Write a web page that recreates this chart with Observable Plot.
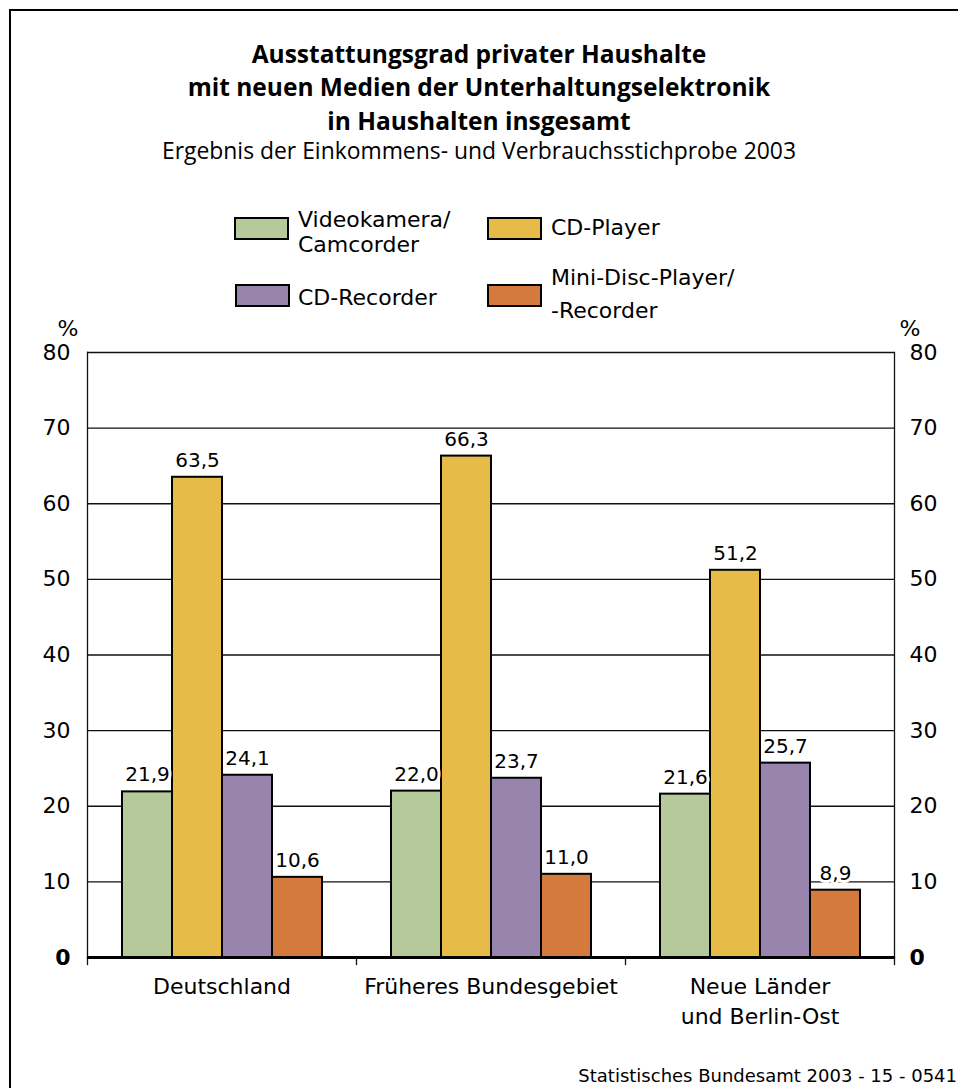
<!DOCTYPE html>
<html>
<head>
<meta charset="utf-8">
<script src="https://cdn.jsdelivr.net/npm/d3@7"></script>
<script src="https://cdn.jsdelivr.net/npm/@observablehq/plot@0.6"></script>
<style>
html, body { margin: 0; padding: 0; background: #fff; width: 958px; height: 1088px; overflow: hidden; }
#page { position: relative; width: 958px; height: 1088px; overflow: hidden; font-family: "DejaVu Sans", sans-serif; color: #000; }
#frame { position: absolute; left: 9px; top: 9px; width: 1000px; height: 1200px; border: 2px solid #000; box-sizing: border-box; }
.title { position: absolute; left: 0; width: 958px; text-align: center; font-family: "Open Sans", sans-serif; font-weight: bold; font-size: 24.5px; line-height: 33.5px; white-space: pre; }
.subtitle { position: absolute; left: 0; width: 958px; text-align: center; font-family: "Open Sans", sans-serif; font-size: 22.9px; line-height: 30px; white-space: nowrap; }
.lbox { position: absolute; width: 55px; height: 23px; border: 2.5px solid #000; box-sizing: border-box; }
.ltext { position: absolute; font-size: 22px; white-space: pre; }
#chart { position: absolute; left: 0; top: 300px; }
.caption { position: absolute; right: 1px; font-size: 18px; line-height: 22px; white-space: nowrap; }
</style>
</head>
<body>
<div id="page">
  <div id="frame"></div>
  <div class="title" id="title" style="top:36.8px"></div>
  <div class="subtitle" id="subtitle" style="top:136.1px"></div>
  <div id="legend"></div>
  <div id="chart"></div>
  <div class="caption" id="caption" style="top:1065px"></div>
</div>
<script>
// ---- data ----
const titleLines = ["Ausstattungsgrad privater Haushalte", "mit neuen Medien der Unterhaltungselektronik", "in Haushalten insgesamt"];
const subtitle = "Ergebnis der Einkommens- und Verbrauchsstichprobe 2003";
const caption = "Statistisches Bundesamt 2003 - 15 - 0541";
const categories = ["Deutschland", "Früheres Bundesgebiet", "Neue Länder\nund Berlin-Ost"];
const series = ["Videokamera/Camcorder", "CD-Player", "CD-Recorder", "Mini-Disc-Player/-Recorder"];
const legendLabels = ["Videokamera/\nCamcorder", "CD-Player", "CD-Recorder", "Mini-Disc-Player/\n-Recorder"];
const videokamera = [21.9, 22.0, 21.6];
const cdPlayer = [63.5, 66.3, 51.2];
const cdRecorder = [24.1, 23.7, 25.7];
const miniDisc = [10.6, 11.0, 8.9];
const colors = ["#b5c99a", "#e6bb48", "#9785ae", "#d47a3c"];
const gridTicks = [10, 20, 30, 40, 50, 60, 70, 80];
const zeroTick = [0];
const unit = "%";

// ---- text blocks ----
document.getElementById("title").textContent = titleLines.join("\n");
document.getElementById("subtitle").textContent = subtitle;
document.getElementById("caption").textContent = caption;

// legend layout (positions only)
const legendPos = [
  {bx: 234, by: 217, tx: 298, ty: 206.9, lh: 25},
  {bx: 487, by: 217, tx: 551, ty: 214.9, lh: 25},
  {bx: 235, by: 284, tx: 298, ty: 284.5, lh: 25},
  {bx: 487, by: 284, tx: 551, ty: 261, lh: 33}
];
const legend = document.getElementById("legend");
legendLabels.forEach((lab, i) => {
  const p = legendPos[i];
  const b = document.createElement("div");
  b.className = "lbox";
  b.style.left = p.bx + "px"; b.style.top = p.by + "px"; b.style.background = colors[i];
  legend.appendChild(b);
  const t = document.createElement("div");
  t.className = "ltext";
  t.style.left = p.tx + "px"; t.style.top = p.ty + "px"; t.style.lineHeight = p.lh + "px";
  t.textContent = lab;
  legend.appendChild(t);
});

// ---- chart ----
const valuesBySeries = [videokamera, cdPlayer, cdRecorder, miniDisc];
const data = categories.flatMap((c, i) => series.map((s, j) => ({category: c, series: s, value: valuesBySeries[j][i]})));
const fmt = v => v.toFixed(1).replace(".", ",");
const innerH = 605;

const chart = Plot.plot({
  width: 958,
  height: 740,
  marginTop: 52,
  marginBottom: 83,
  marginLeft: 86,
  marginRight: 64,
  style: {fontFamily: '"DejaVu Sans", sans-serif', fontSize: "22px", color: "#000", background: "transparent", overflow: "visible"},
  fx: {domain: categories, padding: 0, label: null},
  x: {domain: series, paddingInner: 0, paddingOuter: 0.667, axis: null},
  y: {domain: [0, 80], label: null},
  color: {domain: series, range: colors},
  marks: [
    Plot.ruleY(gridTicks, {stroke: "#111", strokeWidth: 1.3}),
    Plot.frame({anchor: "left", facetAnchor: "left", stroke: "#111", strokeWidth: 1.3}),
    Plot.frame({anchor: "right", facetAnchor: "right", stroke: "#111", strokeWidth: 1.3}),
    Plot.frame({anchor: "left", insetTop: innerH, insetBottom: -7, stroke: "#111", strokeWidth: 1.3}),
    Plot.frame({anchor: "right", facetAnchor: "right", insetTop: innerH, insetBottom: -7, stroke: "#111", strokeWidth: 1.3}),
    Plot.barY(data, {fx: "category", x: "series", y: "value", fill: "series", stroke: "#000", strokeWidth: 2}),
    Plot.ruleY(zeroTick, {stroke: "#000", strokeWidth: 3}),
    Plot.text(data, {fx: "category", x: "series", y: "value", text: d => fmt(d.value), dy: -17, fontSize: 20, fill: "#000", stroke: "#fff", strokeWidth: 6, paintOrder: "stroke", strokeLinejoin: "round"}),
    Plot.axisY({anchor: "left", ticks: gridTicks, tickSize: 0, tickPadding: 17, tickFormat: d => String(d)}),
    Plot.axisY({anchor: "left", ticks: zeroTick, tickSize: 0, tickPadding: 17, tickFormat: d => String(d), fontWeight: "bold"}),
    Plot.axisY({anchor: "right", ticks: gridTicks, tickSize: 0, tickPadding: 15, tickFormat: d => String(d)}),
    Plot.axisY({anchor: "right", ticks: zeroTick, tickSize: 0, tickPadding: 15, tickFormat: d => String(d), fontWeight: "bold"}),
    Plot.axisFx({anchor: "bottom", tickSize: 0, tickPadding: 15, lineHeight: 1.36, label: null}),
    Plot.text([unit], {text: d => d, frameAnchor: "top-left", dx: -30, dy: -32, facetAnchor: "left", fontSize: 22}),
    Plot.text([unit], {text: d => d, frameAnchor: "top-right", dx: 26, dy: -32, facetAnchor: "right", fontSize: 22})
  ]
});
document.getElementById("chart").appendChild(chart);
</script>
</body>
</html>
